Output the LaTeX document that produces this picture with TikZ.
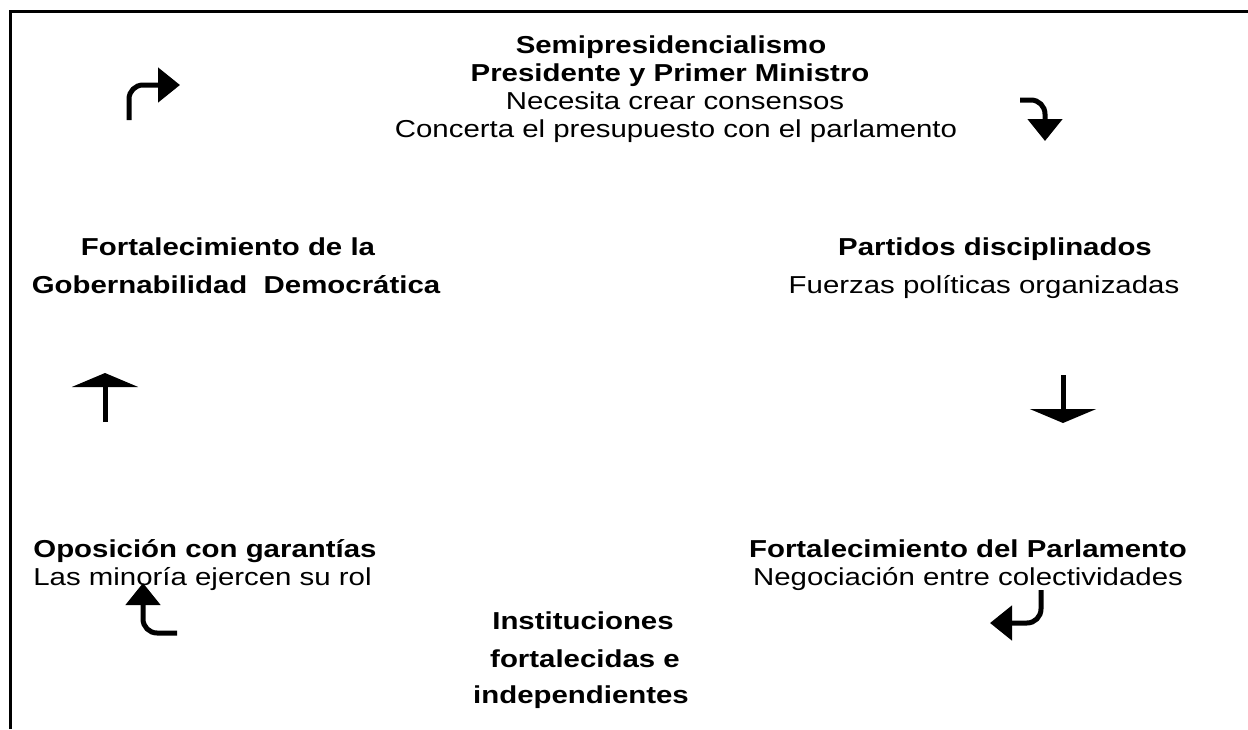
\documentclass[tikz,border=0pt]{standalone}
\usepackage{fontspec}
\setmainfont{Liberation Sans}[FakeStretch=1.2]
\usetikzlibrary{arrows.meta}
\tikzset{
  flecha/.style={line width=2.5pt,-{Triangle[length=11pt,width=17pt]}},
  flechaancha/.style={line width=2.5pt,-{Triangle[length=7pt,width=33pt]}},
}
\begin{document}
\begin{tikzpicture}[x=0.5pt,y=-0.5pt,every node/.style={font=\fontsize{12.25pt}{14pt}\selectfont,inner sep=0pt}]
\useasboundingbox (0,0) rectangle (1248,729);
% marco
\draw[line width=1.5pt] (10,729) -- (10,11) -- (1248,11);
% arriba
\node[anchor=base,font=\fontsize{12.25pt}{14pt}\selectfont\bfseries] (semi) at (671,53) {Semipresidencialismo};
\node[anchor=base,font=\fontsize{12.25pt}{14pt}\selectfont\bfseries] (presi) at (670,81) {Presidente y Primer Ministro};
\node[anchor=base] (consenso) at (675,109) {Necesita crear consensos};
\node[anchor=base] (presup) at (676,137) {Concerta el presupuesto con el parlamento};
% izquierda
\node[anchor=base,font=\fontsize{12.25pt}{14pt}\selectfont\bfseries] (forta) at (228,255) {Fortalecimiento de la};
\node[anchor=base,font=\fontsize{12.25pt}{14pt}\selectfont\bfseries] (gober) at (236,293) {Gobernabilidad~~Democrática};
\node[anchor=base west,font=\fontsize{12.25pt}{14pt}\selectfont\bfseries] (oposi) at (33,557) {Oposición con garantías};
\node[anchor=base west] (minor) at (33,585) {Las minoría ejercen su rol};
% derecha
\node[anchor=base,font=\fontsize{12.25pt}{14pt}\selectfont\bfseries] (parti) at (995,255) {Partidos disciplinados};
\node[anchor=base] (fuerz) at (984,293) {Fuerzas políticas organizadas};
\node[anchor=base,font=\fontsize{12.25pt}{14pt}\selectfont\bfseries] (parla) at (968,557) {Fortalecimiento del Parlamento};
\node[anchor=base] (negoc) at (968,585) {Negociación entre colectividades};
% abajo
\node[anchor=base,font=\fontsize{12.25pt}{14pt}\selectfont\bfseries] (insti) at (583,629) {Instituciones};
\node[anchor=base,font=\fontsize{12.25pt}{14pt}\selectfont\bfseries] (fortal) at (585,667) {fortalecidas e};
\node[anchor=base,font=\fontsize{12.25pt}{14pt}\selectfont\bfseries] (indep) at (581,703) {independientes};
% flechas
\coordinate (a1) at (129,120); \coordinate (b1) at (180,85);
\coordinate (a2) at (1020,100); \coordinate (b2) at (1045,141);
\coordinate (a3) at (1063,375); \coordinate (b3) at (1063,423);
\coordinate (a4) at (1041,590); \coordinate (b4) at (990,623);
\coordinate (a5) at (177,633); \coordinate (b5) at (143,583);
\coordinate (a6) at (105,422); \coordinate (b6) at (105,373);
\draw[flecha,rounded corners=7pt] (a1) |- (b1);
\draw[flecha,rounded corners=7pt] (a2) -| (b2);
\draw[flechaancha] (a3) -- (b3);
\draw[flecha,rounded corners=7pt] (a4) |- (b4);
\draw[flecha,rounded corners=7pt] (a5) -| (b5);
\draw[flechaancha] (a6) -- (b6);
\end{tikzpicture}
\end{document}
